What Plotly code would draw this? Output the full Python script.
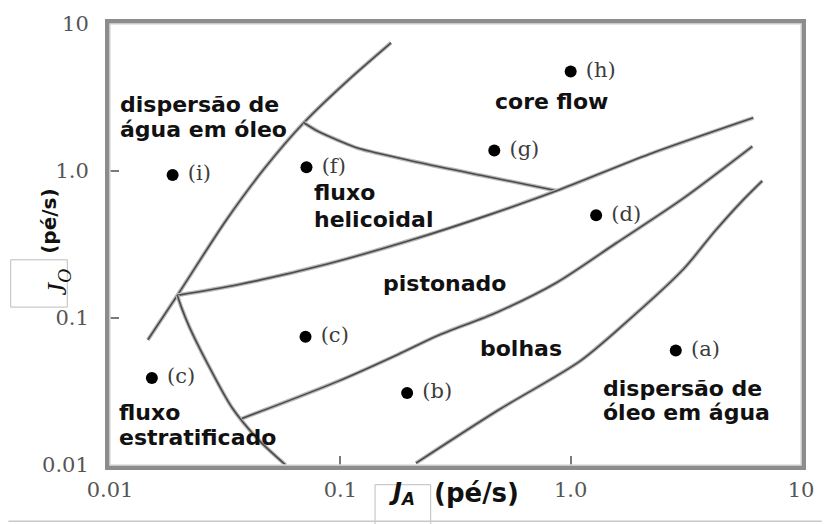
import math
import plotly.graph_objects as go

# Superficial velocities (ft/s): water J_A on x, oil J_O on y
point_labels = ["(a)", "(b)", "(c)", "(c)", "(d)", "(f)", "(g)", "(h)", "(i)"]
point_ja = [2.86, 0.195, 0.0706, 0.0152, 1.29, 0.0713, 0.466, 1.0, 0.0187]
point_jo = [0.060, 0.0309, 0.0745, 0.039, 0.50, 1.06, 1.38, 4.76, 0.94]

# Flow-pattern transition boundaries
b1_ja = [0.0146, 0.0196, 0.0319, 0.0466, 0.0694, 0.108, 0.166]
b1_jo = [0.0711, 0.1426, 0.461, 1.03, 2.13, 4.14, 7.45]
b2_ja = [0.0694, 0.0803, 0.098, 0.1197, 0.217, 0.422, 0.871]
b2_jo = [2.13, 1.855, 1.614, 1.426, 1.148, 0.925, 0.734]
b3_ja = [0.0196, 0.0363, 0.0887, 0.217, 0.435, 0.871, 2.19, 6.21]
b3_jo = [0.1426, 0.169, 0.234, 0.350, 0.499, 0.734, 1.30, 2.30]
b4_ja = [0.0196, 0.0204, 0.0221, 0.0262, 0.0339, 0.0444, 0.0579]
b4_jo = [0.1426, 0.1186, 0.0871, 0.0507, 0.0245, 0.0147, 0.0100]
b5_ja = [0.0374, 0.098, 0.178, 0.264, 0.480, 0.871, 1.578, 3.07, 6.15]
b5_jo = [0.0207, 0.0372, 0.0565, 0.0757, 0.1096, 0.1745, 0.3236, 0.649, 1.472]
b6_ja = [0.213, 0.480, 1.094, 1.69, 3.07, 4.26, 5.57, 6.79]
b6_jo = [0.0103, 0.0234, 0.0507, 0.0897, 0.213, 0.395, 0.629, 0.857]

boundaries = [(b1_ja, b1_jo), (b2_ja, b2_jo), (b3_ja, b3_jo),
              (b4_ja, b4_jo), (b5_ja, b5_jo), (b6_ja, b6_jo)]

# Flow-pattern region names (one entry per text line, left edge / middle)
region_text = ["dispersão de", "água em óleo", "core flow", "fluxo", "helicoidal",
               "pistonado", "bolhas", "dispersão de", "óleo em água",
               "fluxo", "estratificado"]
region_ja = [0.0108, 0.0108, 0.461, 0.0750, 0.0750, 0.150, 0.397, 1.36, 1.36, 0.0107, 0.0107]
region_jo = [2.82, 1.91, 2.95, 0.711, 0.469, 0.172, 0.0619, 0.0333, 0.0227, 0.0227, 0.0154]

tick_vals = [0.01, 0.1, 1, 10]
tick_text = ["0.01", "0.1", "1.0", "10"]

fig = go.Figure()

for bx, by in boundaries:
    fig.add_trace(go.Scatter(x=bx, y=by, mode="lines", hoverinfo="skip",
                             line=dict(color="#b8b8b8", width=4, shape="spline", smoothing=0.8)))
    fig.add_trace(go.Scatter(x=bx, y=by, mode="lines", hoverinfo="skip",
                             line=dict(color="#4a4a4a", width=1.6, shape="spline", smoothing=0.8)))

fig.add_trace(go.Scatter(
    x=point_ja, y=point_jo, mode="markers+text",
    text=["\u00a0" + t for t in point_labels], textposition="middle right",
    marker=dict(color="black", size=12),
    textfont=dict(family="DejaVu Serif", size=21, color="#3c3c3c"),
))

for txt, xa, ya in zip(region_text, region_ja, region_jo):
    fig.add_annotation(x=math.log10(xa), y=math.log10(ya), xref="x", yref="y",
                       text=f"<b>{txt}</b>", showarrow=False,
                       xanchor="left", yanchor="middle",
                       font=dict(family="DejaVu Sans", size=22, color="#111111"))

# Axis title boxes and the rule along the bottom
fig.add_shape(type="rect", xref="paper", yref="paper",
              x0=-0.1437, x1=-0.0618, y0=0.358, y1=0.4653,
              line=dict(color="#bdbdbd", width=1), fillcolor="white", layer="below")
fig.add_shape(type="rect", xref="paper", yref="paper",
              x0=0.3836, x1=0.4641, y0=-0.14, y1=-0.0447,
              line=dict(color="#bdbdbd", width=1), fillcolor="white", layer="below")
fig.add_shape(type="line", xref="paper", yref="paper",
              x0=-0.147, x1=1.03, y0=-0.1275, y1=-0.1275,
              line=dict(color="#c8c8c8", width=1.5))

fig.add_annotation(x=-0.1034, y=0.4139, xref="paper", yref="paper", showarrow=False,
                   text="<i>J<sub>O</sub></i>", textangle=-90,
                   font=dict(family="Liberation Serif", size=28, color="#111111"))
fig.add_annotation(x=-0.1078, y=0.5526, xref="paper", yref="paper", showarrow=False,
                   text="<b>(pé/s)</b>", textangle=-90,
                   font=dict(family="DejaVu Sans", size=20, color="#111111"))
fig.add_annotation(x=0.4224, y=-0.1051, xref="paper", yref="paper", showarrow=False,
                   text="<b><i>J<sub>A</sub></i></b>",
                   font=dict(family="DejaVu Sans", size=24, color="#111111"))
fig.add_annotation(x=0.5300, y=-0.1029, xref="paper", yref="paper", showarrow=False,
                   text="<b>(pé/s)</b>",
                   font=dict(family="DejaVu Sans", size=26, color="#111111"))

# Double-line frame: dark band from the axis lines, light centre stroke on top
fig.add_shape(type="rect", xref="paper", yref="paper", x0=0, x1=1, y0=0, y1=1,
              line=dict(color="#dcdcdc", width=1.5), layer="above")

axis_common = dict(
    type="log", range=[-2, 1], tickvals=tick_vals, ticktext=tick_text,
    ticks="inside", ticklen=9, tickwidth=2, tickcolor="#7a7a7a",
    showline=True, linewidth=5, linecolor="#8c8c8c", mirror=True,
    showgrid=False, zeroline=False,
    tickfont=dict(family="DejaVu Serif", size=21, color="#555555"),
)
fig.update_xaxes(**axis_common, ticklabelstandoff=2)
fig.update_yaxes(**axis_common, ticklabelstandoff=12)

fig.update_layout(
    width=826, height=524,
    margin=dict(l=110, r=20, t=18, b=59),
    paper_bgcolor="white", plot_bgcolor="white",
    showlegend=False,
)

fig.write_html("out.html")
